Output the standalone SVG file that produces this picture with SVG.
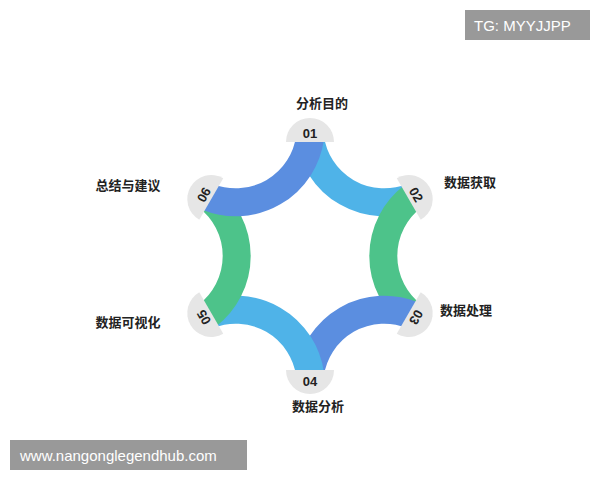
<svg xmlns="http://www.w3.org/2000/svg" width="600" height="480" viewBox="0 0 600 480">
<style>
.a{fill:none;stroke-width:28}
.t{fill:#e6e6e6}
.n{font-family:"Liberation Sans",Arial,sans-serif;font-weight:bold;font-size:13px;fill:#222;text-anchor:middle}
.l{font-family:"Noto Sans CJK SC",sans-serif;font-weight:bold;font-size:13px;fill:#222;text-anchor:middle}
.w{font-family:"Liberation Sans",Arial,sans-serif;font-size:15px;fill:#fff}
</style>
<rect width="600" height="480" fill="#fff"/>
<g id="connectors">
<path class="a" stroke="#4FB3E8" d="M310,138 A75,75 0 0 0 412,197"/>
<path class="a" stroke="#4DC38A" d="M412,197 A75,75 0 0 0 412,315"/>
<path class="a" stroke="#5B8EE0" d="M412,315 A75,75 0 0 0 310,374"/>
<path class="a" stroke="#4FB3E8" d="M310,374 A75,75 0 0 0 208,315"/>
<path class="a" stroke="#4DC38A" d="M208,315 A75,75 0 0 0 208,197"/>
<path class="a" stroke="#5B8EE0" d="M208,197 A75,75 0 0 0 310,138"/>
</g>
<g id="n1" transform="translate(310,256) rotate(0)"><path class="t" d="M-24,-114 A24,24 0 0 1 24,-114Z"/><text class="n" y="-118">01</text></g>
<g id="n2" transform="translate(310,256) rotate(60)"><path class="t" d="M-24,-114 A24,24 0 0 1 24,-114Z"/><text class="n" y="-118">02</text></g>
<g id="n3" transform="translate(310,256) rotate(120)"><path class="t" d="M-24,-114 A24,24 0 0 1 24,-114Z"/><text class="n" y="-118">03</text></g>
<g id="n4" transform="translate(310,256) rotate(180)"><path class="t" d="M-24,-114 A24,24 0 0 1 24,-114Z"/><text class="n" y="-122" transform="rotate(180 0 -126)">04</text></g>
<g id="n5" transform="translate(310,256) rotate(240)"><path class="t" d="M-24,-114 A24,24 0 0 1 24,-114Z"/><text class="n" y="-118">05</text></g>
<g id="n6" transform="translate(310,256) rotate(300)"><path class="t" d="M-24,-114 A24,24 0 0 1 24,-114Z"/><text class="n" y="-118">06</text></g>
<g id="labels">
<text class="l" x="322" y="108">分析目的</text>
<text class="l" x="470" y="187">数据获取</text>
<text class="l" x="466" y="315">数据处理</text>
<text class="l" x="318" y="411">数据分析</text>
<text class="l" x="128" y="327">数据可视化</text>
<text class="l" x="128" y="190">总结与建议</text>
</g>
<rect x="465" y="10" width="125" height="30" fill="#999"/>
<text class="w" x="474" y="31">TG: MYYJJPP</text>
<rect x="10" y="440" width="237" height="30" fill="#999"/>
<text class="w" x="20" y="461">www.nangonglegendhub.com</text>
</svg>
